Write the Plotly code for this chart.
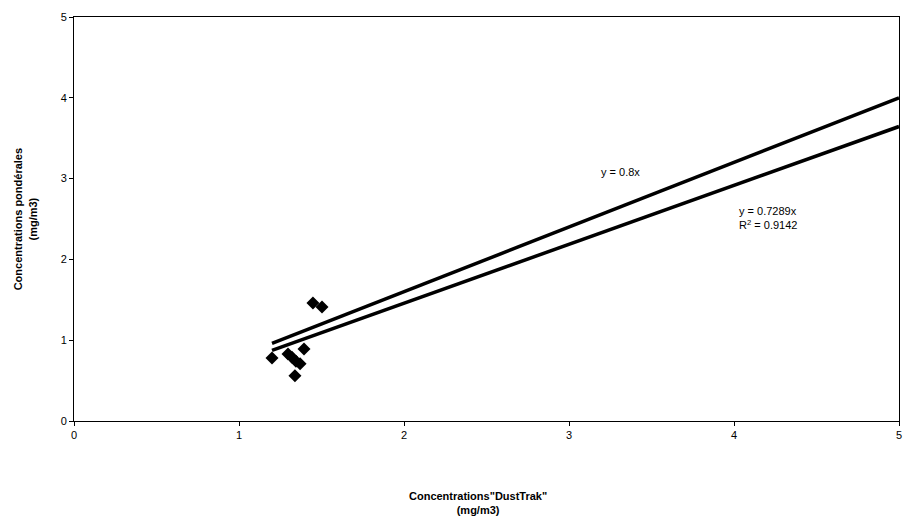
import plotly.graph_objects as go

# Measured points (DustTrak vs gravimetric), mg/m3
dusttrak = [1.200, 1.297, 1.321, 1.345, 1.370, 1.394, 1.339, 1.448, 1.503]
ponderal = [0.78, 0.83, 0.79, 0.74, 0.71, 0.89, 0.56, 1.46, 1.41]

# Trend lines (range)
line_x = [1.2, 5.0]
ref_slope = 0.8
fit_slope = 0.7289
fit_r2 = 0.9142

x_ticks = [0, 1, 2, 3, 4, 5]
y_ticks = [0, 1, 2, 3, 4, 5]

font = "Liberation Sans, Arial, sans-serif"

fig = go.Figure()
fig.add_trace(go.Scatter(
    x=line_x, y=[ref_slope * v for v in line_x], mode="lines",
    line=dict(color="black", width=3.5), showlegend=False, hoverinfo="skip"))
fig.add_trace(go.Scatter(
    x=line_x, y=[fit_slope * v for v in line_x], mode="lines",
    line=dict(color="black", width=3.5), showlegend=False, hoverinfo="skip"))
fig.add_trace(go.Scatter(
    x=dusttrak, y=ponderal, mode="markers",
    marker=dict(symbol="diamond", size=10, color="black"),
    showlegend=False))

fig.add_annotation(x=3.31, y=3.08, text="y = 0.8x", showarrow=False,
                   xanchor="center", yanchor="middle",
                   font=dict(family=font, size=11, color="black"))
fig.add_annotation(x=4.02, y=2.51,
                   text=f"y = {fit_slope}x<br>R<sup>2</sup> = {fit_r2}",
                   showarrow=False, xanchor="left", yanchor="middle", align="left",
                   font=dict(family=font, size=11, color="black"))

fig.add_annotation(xref="paper", yref="paper", x=-0.059, y=0.5,
                   text="<b>Concentrations pondérales<br>(mg/m3)</b>",
                   textangle=-90, showarrow=False, xanchor="center", yanchor="middle",
                   font=dict(family=font, size=11, color="black"))
fig.add_annotation(xref="paper", yref="paper", x=0.49, y=-0.203,
                   text="<b>Concentrations\"DustTrak\"<br>(mg/m3)</b>",
                   showarrow=False, xanchor="center", yanchor="middle",
                   font=dict(family=font, size=11, color="black"))

axis_common = dict(showline=True, linecolor="black", linewidth=1, mirror=True,
                   showgrid=False, zeroline=False, ticks="outside", ticklen=4,
                   tickcolor="black", automargin=False,
                   tickfont=dict(family=font, size=11, color="black"))

fig.update_layout(
    width=907, height=530,
    margin=dict(l=74, r=8, t=17, b=109, autoexpand=False),
    paper_bgcolor="white", plot_bgcolor="white",
    xaxis=dict(range=[0, 5], tickvals=x_ticks, ticktext=[str(t) for t in x_ticks], **axis_common),
    yaxis=dict(range=[0, 5], tickvals=y_ticks, ticktext=[str(t) for t in y_ticks], **axis_common),
)

fig.write_html(
    "out.html",
    config={"displayModeBar": False},
    post_script="document.body.style.margin='0';document.body.style.overflow='hidden';",
)
